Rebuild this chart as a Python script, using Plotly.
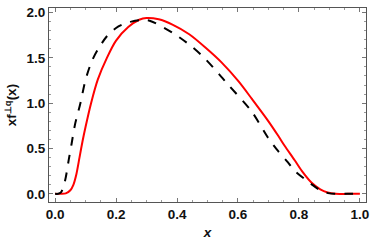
import plotly.graph_objects as go

# Red solid curve
red_x = [0.00, 0.02, 0.035, 0.05, 0.06, 0.07, 0.08, 0.09, 0.10, 0.118, 0.14, 0.17, 0.20, 0.24,
         0.276, 0.30, 0.34, 0.385, 0.44, 0.493, 0.546, 0.602, 0.645, 0.70, 0.732, 0.753, 0.786,
         0.81, 0.84, 0.87, 0.894, 0.92, 0.96, 1.00]
red_y = [0.0, 0.0, 0.005, 0.04, 0.10, 0.22, 0.40, 0.58, 0.74, 1.00, 1.26, 1.50, 1.69, 1.84,
         1.92, 1.94, 1.925, 1.867, 1.76, 1.614, 1.45, 1.24, 1.05, 0.80, 0.64, 0.53, 0.37,
         0.25, 0.128, 0.05, 0.015, 0.0, 0.0, 0.0]

# Black dashed curve
blk_x = [0.00, 0.01, 0.02, 0.033, 0.045, 0.054, 0.065, 0.083, 0.10, 0.12, 0.14, 0.168, 0.20,
         0.222, 0.25, 0.28, 0.31, 0.385, 0.45, 0.493, 0.537, 0.569, 0.645, 0.699, 0.732, 0.764,
         0.786, 0.84, 0.87, 0.90, 0.92, 0.96, 1.00]
blk_y = [0.0, 0.0, 0.02, 0.15, 0.38, 0.55, 0.76, 1.00, 1.26, 1.46, 1.59, 1.73, 1.83,
         1.87, 1.90, 1.915, 1.91, 1.777, 1.62, 1.487, 1.324, 1.20, 0.908, 0.617, 0.47, 0.346,
         0.255, 0.11, 0.04, 0.005, 0.0, 0.0, 0.0]

x_ticks = [0.0, 0.2, 0.4, 0.6, 0.8, 1.0]
x_tick_labels = ["0.0", "0.2", "0.4", "0.6", "0.8", "1.0"]
y_ticks = [0.0, 0.5, 1.0, 1.5, 2.0]
y_tick_labels = ["0.0", "0.5", "1.0", "1.5", "2.0"]

FONT = "Liberation Sans, Arial, sans-serif"

fig = go.Figure()
fig.add_trace(go.Scatter(x=red_x, y=red_y, mode="lines",
                         line=dict(color="#ff0000", width=2, shape="spline", smoothing=0.8),
                         showlegend=False))
fig.add_trace(go.Scatter(x=blk_x, y=blk_y, mode="lines",
                         line=dict(color="#000000", width=2, dash="dash", shape="spline", smoothing=0.8),
                         showlegend=False))

axis_common = dict(
    showgrid=False, zeroline=False, showline=True, linecolor="#555555", linewidth=1,
    mirror="ticks", ticks="inside", ticklen=4, tickcolor="#777777", tickwidth=1,
    ticklabeloverflow="allow",
    tickfont=dict(family=FONT, size=13.5, color="#111111", weight="bold"),
)

fig.update_xaxes(range=[-0.02, 1.02], tickvals=x_ticks, ticktext=["<b>%s</b>" % t for t in x_tick_labels],
                 minor=dict(dtick=0.05, ticklen=2, tickcolor="#999999", ticks="inside"),
                 title=dict(text="<b><i>x</i></b>", font=dict(family=FONT, size=13.5, color="#111111", weight="bold"), standoff=6),
                 **axis_common)
fig.update_yaxes(range=[-0.09, 2.05], tickvals=y_ticks, ticktext=["<b>%s</b>" % t for t in y_tick_labels],
                 minor=dict(dtick=0.1, ticklen=2, tickcolor="#999999", ticks="inside"),
                 title=dict(text="<b>xf<sup>⊥q</sup>(x)</b>", font=dict(family=FONT, size=13.5, color="#111111", weight="bold"), standoff=6),
                 **axis_common)

fig.update_layout(width=374, height=248, margin=dict(l=49, r=6, t=5, b=46),
                  plot_bgcolor="white", paper_bgcolor="white")

fig.write_html("out.html", config={"displayModeBar": False},
               post_script="document.body.style.margin='0';document.body.style.overflow='hidden';")
